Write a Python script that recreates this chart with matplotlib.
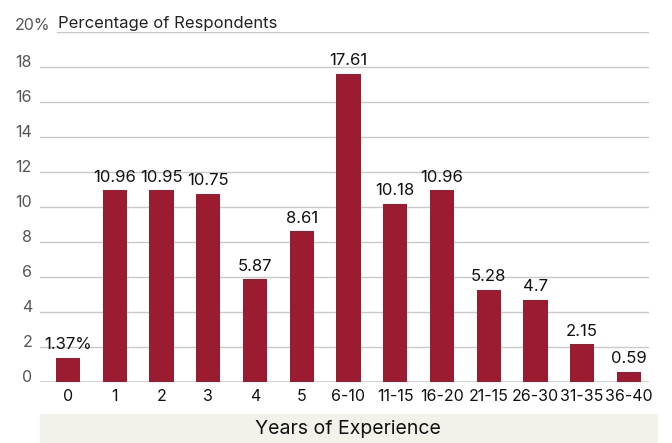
import matplotlib.pyplot as plt
from matplotlib.patches import Rectangle

plt.rcParams['font.family'] = ['Inter', 'DejaVu Sans']

years = ['0', '1', '2', '3', '4', '5', '6-10', '11-15', '16-20',
         '21-15', '26-30', '31-35', '36-40']
share = [1.37, 10.96, 10.95, 10.75, 5.87, 8.61, 17.61, 10.18, 10.96,
         5.28, 4.7, 2.15, 0.59]
labels = ['1.37%', '10.96', '10.95', '10.75', '5.87', '8.61', '17.61',
          '10.18', '10.96', '5.28', '4.7', '2.15', '0.59']
yticks = [0, 2, 4, 6, 8, 10, 12, 14, 16, 18]

W, H = 672, 443
fig = plt.figure(figsize=(W / 100, H / 100), dpi=100)
ax = fig.add_axes([40 / W, (H - 382) / H, 609 / W, 350 / H])

bar_col = '#9b1b31'
grid_col = '#c9c9c9'

x = list(range(len(years)))
bars = ax.bar(x, share, width=0.52, color=bar_col, zorder=3)

ax.set_xlim(-0.6, 12.43)
ax.set_ylim(0, 20)

# grid lines (top one starts after the axis title)
for v in yticks:
    ax.axhline(v, color=grid_col, lw=1.2 if v == 0 else 1, zorder=1)
ax.axhline(20, xmin=17 / 609, color=grid_col, lw=1, zorder=1)

for s in ax.spines.values():
    s.set_visible(False)
ax.set_yticks([])
ax.set_xticks(x)
ax.set_xticklabels(years, fontsize=11.5, color='#111111')
ax.tick_params(axis='x', length=0, pad=5)

# y labels, right-aligned numbers with baseline on the grid line
ytr = ax.get_yaxis_transform()
for v in yticks:
    ax.text(-8 / 609, v, str(v), transform=ytr, ha='right', va='baseline',
            fontsize=11.5, color='#555555')
ax.text(-25 / 609, 20.1, '20%', transform=ytr, ha='left', va='baseline',
        fontsize=11.5, color='#555555')
ax.text(18 / 609, 20.25, 'Percentage of Respondents', transform=ytr,
        ha='left', va='baseline', fontsize=12, color='#222222')

for b, lab in zip(bars, labels):
    ax.annotate(lab, (b.get_x() + b.get_width() / 2, b.get_height()),
                xytext=(0, 4), textcoords='offset points', ha='center',
                va='bottom', fontsize=12, color='#111111')

# axis title band
fig.patches.append(Rectangle((40 / W, 0), 617 / W, 29 / H,
                             transform=fig.transFigure, color='#f3f2ea',
                             zorder=0))
fig.text(348 / W, 14 / H, 'Years of Experience', ha='center', va='center',
         fontsize=14, color='#111111')

fig.savefig('out.png', dpi=100)
